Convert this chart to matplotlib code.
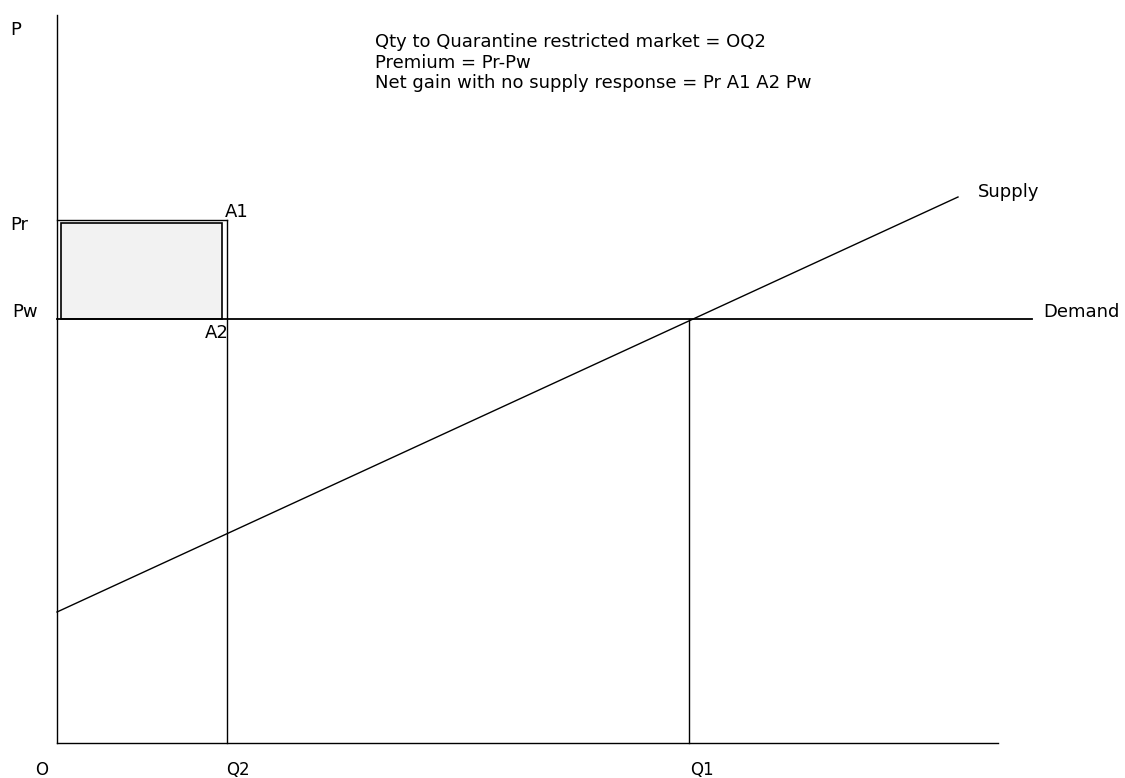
import matplotlib.pyplot as plt
from matplotlib.patches import Rectangle

# quantities / prices in diagram units (origin O at 0, 0)
q2 = 170
q1 = 632
p_w = 424
p_r = 523
x_max = 941
y_max = 728
demand_end = 975
supply_x = [0, 901]
supply_y = [131, 546]

notes = [
    "Qty to Quarantine restricted market = OQ2",
    "Premium = Pr-Pw",
    "Net gain with no supply response = Pr A1 A2 Pw",
]

plt.rcParams["font.family"] = ["DejaVu Sans"]

fig = plt.figure(figsize=(11.25, 7.78), dpi=100)
ax = fig.add_axes([0, 0, 1, 1])
ax.set_xlim(-57, 1068)
ax.set_ylim(-35, 743)
ax.axis("off")

lw = 1.0
k = "black"

# axes of the diagram
ax.plot([0, 0], [0, y_max], color=k, lw=lw)
ax.plot([0, x_max], [0, 0], color=k, lw=lw)

# demand (world price) and supply
ax.plot([0, demand_end], [p_w, p_w], color=k, lw=1.3)
ax.plot(supply_x, supply_y, color=k, lw=lw)

# verticals at Q2 and Q1
ax.plot([q2, q2], [0, p_r], color=k, lw=lw)
ax.plot([q1, q1], [0, p_w], color=k, lw=lw)

# premium rectangle (outer outline + shaded inner box)
ax.plot([0, q2], [p_r, p_r], color=k, lw=lw)
ax.add_patch(Rectangle((4, p_w), q2 - 9, p_r - p_w - 3,
                       facecolor="#f2f2f2", edgecolor=k, lw=1.2))

fs = 13
ax.text(-47, 713, "P", fontsize=fs, va="center", ha="left")
ax.text(-47, p_r - 5, "Pr", fontsize=fs, va="center", ha="left")
ax.text(-45, p_w + 7, "Pw", fontsize=fs, va="center", ha="left")
ax.text(-15, -27, "O", fontsize=12, va="center", ha="center")
ax.text(q2 + 11, -27, "Q2", fontsize=12, va="center", ha="center")
ax.text(q1 + 13, -27, "Q1", fontsize=12, va="center", ha="center")
ax.text(q2 - 2, p_r + 8, "A1", fontsize=fs, va="center", ha="left")
ax.text(q2 - 22, p_w - 14, "A2", fontsize=fs, va="center", ha="left")
ax.text(921, 551, "Supply", fontsize=fs, va="center", ha="left")
ax.text(986, p_w + 7, "Demand", fontsize=fs, va="center", ha="left")

for i, line in enumerate(notes):
    ax.text(318, 701 - i * 20.5, line, fontsize=fs, va="center", ha="left")

fig.savefig("out.png", dpi=100)
